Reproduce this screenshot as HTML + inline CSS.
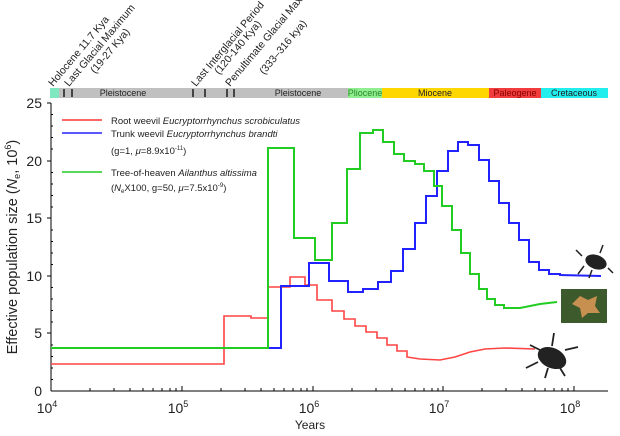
<!DOCTYPE html>
<html><head><meta charset="utf-8"><style>
body{margin:0;background:#fff}
svg{display:block;font-family:"Liberation Sans",sans-serif}
</style></head><body>
<svg width="620" height="436" viewBox="0 0 620 436" xmlns="http://www.w3.org/2000/svg">
<rect x="50" y="88" width="9" height="10" fill="#7fe8c0"/>
<rect x="59" y="88" width="289" height="10" fill="#c0c0c0"/>
<rect x="348" y="88" width="34" height="10" fill="#90ee90"/>
<rect x="382" y="88" width="107" height="10" fill="#ffd700"/>
<rect x="489" y="88" width="52" height="10" fill="#f03c3c"/>
<rect x="541" y="88" width="67" height="10" fill="#22eeee"/>
<g stroke="#000" stroke-width="1.3">
<line x1="64" y1="89" x2="64" y2="97"/><line x1="72" y1="89" x2="72" y2="97"/>
<line x1="193" y1="89" x2="193" y2="97"/><line x1="205" y1="89" x2="205" y2="97"/>
<line x1="227" y1="89" x2="227" y2="97"/><line x1="234" y1="89" x2="234" y2="97"/>
</g>
<g font-size="9" fill="#222" text-anchor="middle">
<text x="123" y="96">Pleistocene</text>
<text x="298" y="96">Pleistocene</text>
<text x="365" y="96" fill="#2a8a2a">Pliocene</text>
<text x="435" y="96">Miocene</text>
<text x="515" y="96" fill="#800">Paleogene</text>
<text x="574" y="96">Cretaceous</text>
</g>
<g font-size="10.5" fill="#222">
<text transform="translate(53,87) rotate(-50)">Holocene 11.7 Kya</text>
<text transform="translate(69,87) rotate(-50)">Last Glacial Maximum</text>
<text transform="translate(95,74) rotate(-50)">(19-27 Kya)</text>
<text transform="translate(196,87) rotate(-50)">Last Interglacial Period</text>
<text transform="translate(219,75) rotate(-50)">(120-140 Kya)</text>
<text transform="translate(230,87) rotate(-50)">Penultimate Glacial Maximum</text>
<text transform="translate(264,75) rotate(-50)">(333–316 kya)</text>
</g>
<g stroke="#000" stroke-width="1" fill="none">
<line x1="51" y1="103" x2="51" y2="391"/>
<line x1="51" y1="391" x2="608" y2="391"/>
</g>
<g stroke="#000" stroke-width="1">
<line x1="47" y1="103" x2="51" y2="103"/><line x1="47" y1="161" x2="51" y2="161"/>
<line x1="47" y1="218" x2="51" y2="218"/><line x1="47" y1="276" x2="51" y2="276"/>
<line x1="47" y1="333" x2="51" y2="333"/>
<path d="M51 114.5h2M51 126h2M51 137.5h2M51 149h2M51 172.5h2M51 184h2M51 195.5h2M51 207h2M51 230h2M51 241.5h2M51 253h2M51 264.5h2M51 287.5h2M51 299h2M51 310.5h2M51 322h2M51 345h2M51 356.5h2M51 368h2M51 379.5h2"/>
<path d="M182 391v-5M313 391v-5M443 391v-5M574 391v-5"/>
<path id="mn" d="M90 391v-3M114 391v-3M130 391v-3M143 391v-3M153 391v-3M162 391v-3M170 391v-3M176 391v-3"/>
<use href="#mn" x="131"/><use href="#mn" x="262"/><use href="#mn" x="392"/>
</g>
<g font-size="14" fill="#222" text-anchor="end">
<text x="42" y="108">25</text><text x="42" y="166">20</text><text x="42" y="223">15</text>
<text x="42" y="281">10</text><text x="42" y="338">5</text><text x="42" y="396">0</text>
</g>
<g font-size="14" fill="#222" text-anchor="middle">
<text x="47" y="413">10<tspan font-size="9" dy="-6">4</tspan></text>
<text x="178" y="413">10<tspan font-size="9" dy="-6">5</tspan></text>
<text x="309" y="413">10<tspan font-size="9" dy="-6">6</tspan></text>
<text x="439" y="413">10<tspan font-size="9" dy="-6">7</tspan></text>
<text x="570" y="413">10<tspan font-size="9" dy="-6">8</tspan></text>
<text x="310" y="429" font-size="12">Years</text>
</g>
<text transform="translate(17,247) rotate(-90)" font-size="14.5" fill="#222" text-anchor="middle">Effective population size (<tspan font-style="italic">N</tspan><tspan font-size="9" dy="3">e</tspan><tspan dy="-3">, 10</tspan><tspan font-size="9" dy="-6">6</tspan><tspan dy="6">)</tspan></text>
<g stroke-width="1.5">
<line x1="62" y1="120" x2="102" y2="120" stroke="#f33"/>
<line x1="62" y1="133" x2="102" y2="133" stroke="#22f"/>
<line x1="62" y1="172" x2="102" y2="172" stroke="#2c2"/>
</g>
<g font-size="9.5" fill="#222">
<text x="111" y="124">Root weevil <tspan font-style="italic">Eucryptorrhynchus scrobiculatus</tspan></text>
<text x="111" y="137">Trunk weevil <tspan font-style="italic">Eucryptorrhynchus brandti</tspan></text>
<text x="111" y="154">(g=1, <tspan font-style="italic">μ</tspan>=8.9x10<tspan font-size="6" dy="-4">-11</tspan><tspan dy="4">)</tspan></text>
<text x="111" y="176">Tree-of-heaven <tspan font-style="italic">Ailanthus altissima</tspan></text>
<text x="111" y="191">(<tspan font-style="italic">N</tspan><tspan font-size="6" dy="2">e</tspan><tspan dy="-2">X100, g=50, </tspan><tspan font-style="italic">μ</tspan>=7.5x10<tspan font-size="6" dy="-4">-9</tspan><tspan dy="4">)</tspan></text>
</g>
<g fill="none" stroke-width="1.6">
<polyline stroke="#f44" points="51,364 224,364 224,316 251,316 251,318 268,318 268,287 290,287 290,277 305,277 305,285 317,285 317,300 332,300 332,311 344,311 344,319 355,319 355,326 366,326 366,332 377,332 377,338 387,338 387,345 397,345 397,351 407,351 407,357 420,359 440,360 455,357 470,352 485,349 505,348 535,349"/>
<polyline stroke="#22f" stroke-width="2" points="51,348 281,348 281,286 309,286 309,263 329,263 329,281 348,281 348,292 363,292 363,289 378,289 378,282 391,282 391,271 403,271 403,249 415,249 415,223 426,223 426,196 437,196 437,171 448,171 448,151 458,151 458,142 468,142 468,145 479,145 479,160 489,160 489,181 499,181 499,203 509,203 509,223 519,223 519,240 529,240 529,262 539,262 539,270 549,270 549,274 560,274 560,275 601,276"/>
<polyline stroke="#2c2" stroke-width="2" points="51,348 268,348 268,148 294,148 294,238 315,238 315,260 332,260 332,223 347,223 347,169 360,169 360,133 373,133 373,130 383,130 383,142 394,142 394,154 404,154 404,161 415,161 415,164 424,164 424,171 434,171 434,186 442,186 442,206 452,206 452,230 461,230 461,253 470,253 470,274 479,274 479,289 487,289 487,299 495,299 495,305 504,305 504,308 520,308 530,306 540,304 557,302"/>
</g>
<g fill="#222">
<ellipse cx="596" cy="262" rx="11" ry="7" transform="rotate(20 596 262)"/>
<path d="M582 256l-6-6M584 266l-6 8M600 253l3-8M608 268l5 5M592 270l-3 8" stroke="#222" stroke-width="1.5"/>
<ellipse cx="552" cy="358" rx="15" ry="10" transform="rotate(25 552 358)"/>
<path d="M540 350l-10-5M538 362l-12 6M552 346l2-13M565 350l13-3M560 368l5 8M548 368l-3 10" stroke="#222" stroke-width="1.8"/>
</g>
<rect x="561" y="289" width="46" height="34" fill="#3d5a2c"/>
<polygon points="580,296 588,300 597,296 595,306 600,313 588,313 582,318 580,308 572,304" fill="#c89050"/>
</svg>
</body></html>
